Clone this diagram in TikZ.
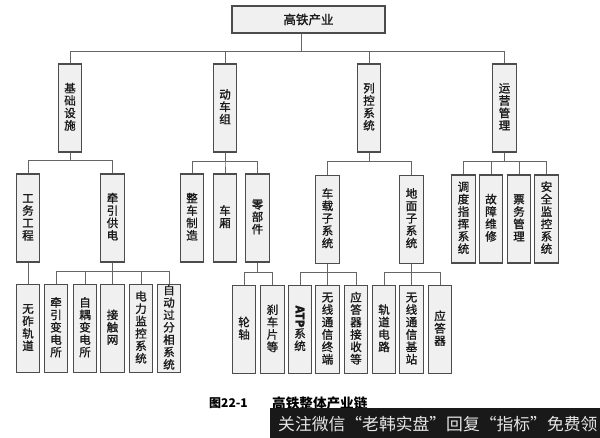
\documentclass[tikz,border=0pt]{standalone}
\usepackage{fontspec}
\usepackage{graphicx}
\setmainfont{Noto Sans CJK SC}
\newfontfamily\boxfont[FakeBold=1.2]{Noto Sans CJK SC}
\newcommand\bxfont{\boxfont\fontsize{11.5}{12.4}\selectfont}
\newcommand\vstack[1]{\vbox{\offinterlineskip\halign{\hfil\smash{##}\vrule height 9.3pt depth 3.1pt width 0pt\hfil\cr#1\crcr}}}
\tikzset{
 bx/.style={draw=black!70, line width=1.1pt, fill=black!6, minimum width=23.5pt, minimum height=88pt, inner sep=0pt, align=center, font=\bxfont, text=black!90},
 ln/.style={draw=black!60, line width=0.8pt},
}
\begin{document}
\begin{tikzpicture}[x=1pt,y=-1pt]
\useasboundingbox (0,0) rectangle (600,438);
% level 0
\node[bx, minimum width=153pt, minimum height=27pt, font=\boxfont\fontsize{12.5}{13}\selectfont] (top) at (308.5,19.5) {高铁产业};
% level 1
\node[bx] (jc) at (70,108) {\vstack{基\cr 础\cr 设\cr 施}};
\node[bx] (dc) at (225,108) {\vstack{动\cr 车\cr 组}};
\node[bx] (lk) at (369,108) {\vstack{列\cr 控\cr 系\cr 统}};
\node[bx] (yy) at (504.5,108) {\vstack{运\cr 营\cr 管\cr 理}};
% level 2
\node[bx] (gw) at (28,218) {\vstack{工\cr 务\cr 工\cr 程}};
\node[bx] (qy) at (112.5,218) {\vstack{牵\cr 引\cr 供\cr 电}};
\node[bx] (zc) at (192,218) {\vstack{整\cr 车\cr 制\cr 造}};
\node[bx] (cx) at (225,218) {\vstack{车\cr 厢}};
\node[bx] (lb) at (257.5,218) {\vstack{零\cr 部\cr 件}};
\node[bx] (cz) at (327.5,219.5) {\vstack{车\cr 载\cr 子\cr 系\cr 统}};
\node[bx] (dm) at (411.5,219.5) {\vstack{地\cr 面\cr 子\cr 系\cr 统}};
\node[bx] (dd) at (463.5,219) {\vstack{调\cr 度\cr 指\cr 挥\cr 系\cr 统}};
\node[bx] (gz) at (491,219) {\vstack{故\cr 障\cr 维\cr 修}};
\node[bx] (pw) at (519,219) {\vstack{票\cr 务\cr 管\cr 理}};
\node[bx] (aq) at (546.5,219) {\vstack{安\cr 全\cr 监\cr 控\cr 系\cr 统}};
% level 3
\node[bx] (wz) at (28,328.5) {\vstack{无\cr 砟\cr 轨\cr 道}};
\node[bx] (qb) at (56,328.5) {\vstack{牵\cr 引\cr 变\cr 电\cr 所}};
\node[bx] (zo) at (85,328.5) {\vstack{自\cr 耦\cr 变\cr 电\cr 所}};
\node[bx] (jw) at (112.5,328.5) {\vstack{接\cr 触\cr 网}};
\node[bx] (dl) at (141,328.5) {\vstack{电\cr 力\cr 监\cr 控\cr 系\cr 统}};
\node[bx] (zd) at (169,328.5) {\vstack{自\cr 动\cr 过\cr 分\cr 相\cr 系\cr 统}};
\node[bx] (lz) at (244,329.5) {\vstack{轮\cr 轴}};
\node[bx] (sc) at (272.5,329.5) {\vstack{刹\cr 车\cr 片\cr 等}};
\node[bx] (atp) at (300,329.5) {\rotatebox{-90}{\bfseries ATP}\\\vstack{系\cr 统}};
\node[bx] (wxz) at (327.5,329.5) {\vstack{无\cr 线\cr 通\cr 信\cr 终\cr 端}};
\node[bx] (ydj) at (356,329.5) {\vstack{应\cr 答\cr 器\cr 接\cr 收\cr 等}};
\node[bx] (gd) at (384,329.5) {\vstack{轨\cr 道\cr 电\cr 路}};
\node[bx] (wxj) at (411.5,329.5) {\vstack{无\cr 线\cr 通\cr 信\cr 基\cr 站}};
\node[bx] (yd) at (440,329.5) {\vstack{应\cr 答\cr 器}};
% buses
\coordinate (tp) at ([xshift=-7.5pt]top.south);
\coordinate (b1) at (0,51);
\coordinate (b2a) at (0,160);
\coordinate (b2) at (0,161);
\coordinate (b3a) at (0,271);
\coordinate (b3) at (0,272);
% connectors
\foreach \c in {jc,dc,lk,yy} \draw[ln] (tp) -- (tp |- b1) -| (\c.north);
\foreach \c in {gw,qy} \draw[ln] (jc.south) -- (jc.south |- b2a) -| (\c.north);
\foreach \c in {zc,cx,lb} \draw[ln] (dc.south) -- (dc.south |- b2) -| (\c.north);
\foreach \c in {cz,dm} \draw[ln] (lk.south) -- (lk.south |- b2) -| (\c.north);
\foreach \c in {dd,gz,pw,aq} \draw[ln] (yy.south) -- (yy.south |- b2) -| (\c.north);
\draw[ln] (gw.south) -- (wz.north);
\foreach \c in {qb,zo,jw,dl,zd} \draw[ln] (qy.south) -- (qy.south |- b3a) -| (\c.north);
\foreach \c in {lz,sc} \draw[ln] (lb.south) -- (lb.south |- b3) -| (\c.north);
\foreach \c in {atp,wxz,ydj} \draw[ln] (cz.south) -- (cz.south |- b3) -| (\c.north);
\foreach \c in {gd,wxj,yd} \draw[ln] (dm.south) -- (dm.south |- b3) -| (\c.north);
% caption
\node[anchor=west, inner sep=0pt, font=\bfseries\fontsize{12}{13}\selectfont] (cap1) at (209,403) {图22-1};
\node[anchor=west, inner sep=0pt, font=\bfseries\fontsize{13.6}{14}\selectfont] (cap2) at (272,403) {高铁整体产业链};
% watermark banner
\node[anchor=north west, fill=black!90, minimum width=330pt, minimum height=30pt, inner sep=0pt] (wm) at (270,408) {};
\node[anchor=west, inner sep=0pt, text=black!10, font=\fontsize{16.8}{17}\selectfont] (wmt) at (278,424) {关注微信“老韩实盘”回复“指标”免费领};
\end{tikzpicture}
\end{document}
